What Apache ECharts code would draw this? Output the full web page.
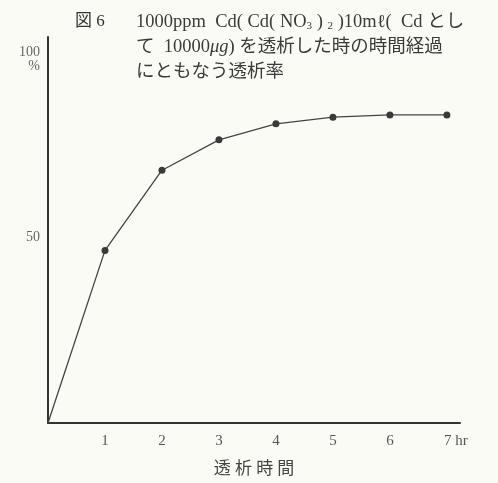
<!DOCTYPE html>
<html><head><meta charset="utf-8">
<script src="https://cdn.jsdelivr.net/npm/echarts@6/dist/echarts.min.js"></script>
<style>html,body{margin:0;padding:0;background:#fbfbf6}#c{width:498px;height:483px}</style>
</head><body><div id="c"></div>
<script>
const hours = [0, 1, 2, 3, 4, 5, 6, 7];
const rate = [0, 46.5, 68.1, 76.3, 80.6, 82.4, 83.0, 83.0];
const yTicks = [50, 100];
const xTickLabels = ['1', '2', '3', '4', '5', '6', '7'];
const titleFig = '図 6';
const xName = '透 析 時 間';

const serif = '"Liberation Serif", "DejaVu Serif", "Noto Sans CJK JP", serif';
const jp = '"Liberation Serif", "Noto Sans CJK JP", serif';
const chart = echarts.init(document.getElementById('c'), null, {renderer: 'canvas'});
const data = hours.map((h, i) => i === 0 ? {value: [h, rate[i]], symbol: 'none'} : [h, rate[i]]);
const base = {fontFamily: jp, fontSize: 18.5, fontWeight: 'normal', color: '#3a3a3a', lineHeight: 25};
chart.setOption({
  backgroundColor: '#fbfbf6',
  animation: false,
  title: [
    {text: titleFig, left: 70, top: 6, textStyle: {fontFamily: jp, fontSize: 17, fontWeight: 'normal', color: '#333', lineHeight: 22}},
    {text: '{a|1000ppm  Cd( Cd( NO}{s|3}{a| ) }{s|2}{a| )10mℓ(  Cd とし}\n{a|て  10000}{i|μg}{a|) を透析した時の時間経過}\n{a|にともなう透析率}',
     left: 131, top: 5,
     textStyle: {fontWeight: 'normal', rich: {
       a: base,
       i: Object.assign({}, base, {fontStyle: 'italic'}),
       s: Object.assign({}, base, {fontSize: 11, padding: [8, 0, 0, 0]})
     }}}
  ],
  grid: {left: 48, right: 38, top: 37, bottom: 55},
  xAxis: {
    type: 'value', min: 0, max: 7.23, interval: 1,
    axisLine: {lineStyle: {color: '#333', width: 2}},
    axisTick: {show: false}, splitLine: {show: false},
    axisLabel: {
      margin: 11, fontFamily: serif, fontSize: 15, color: '#555',
      formatter: v => {
        const i = xTickLabels.indexOf(String(v));
        if (i < 0) return '';
        return v === 7 ? '{sp|}{n|7}{h| hr}' : '{n|' + xTickLabels[i] + '}';
      },
      rich: {n: {fontFamily: serif, fontSize: 15, color: '#555'}, h: {fontFamily: serif, fontSize: 15, color: '#555'}, sp: {width: 18}}
    },
    name: xName, nameLocation: 'middle', nameGap: 38,
    nameTextStyle: {fontFamily: jp, fontSize: 17, color: '#444'}
  },
  yAxis: {
    type: 'value', min: 0, max: 104, interval: 50,
    axisLine: {show: true, lineStyle: {color: '#333', width: 2}},
    axisTick: {show: false}, splitLine: {show: false},
    axisLabel: {
      margin: 8, fontFamily: serif, fontSize: 14, color: '#666', align: 'right',
      formatter: v => {
        if (!yTicks.includes(v)) return '';
        return v === 100 ? '{n| }\n{n|100}\n{n|%}' : '{n|' + v + '}';
      },
      rich: {n: {fontFamily: serif, fontSize: 14, color: '#666', lineHeight: 14, align: 'right'}}
    }
  },
  series: [{
    type: 'line', data: data, symbol: 'circle', symbolSize: 7,
    lineStyle: {color: '#444', width: 1.3},
    itemStyle: {color: '#3a3a3a'}
  }]
});
</script></body></html>
